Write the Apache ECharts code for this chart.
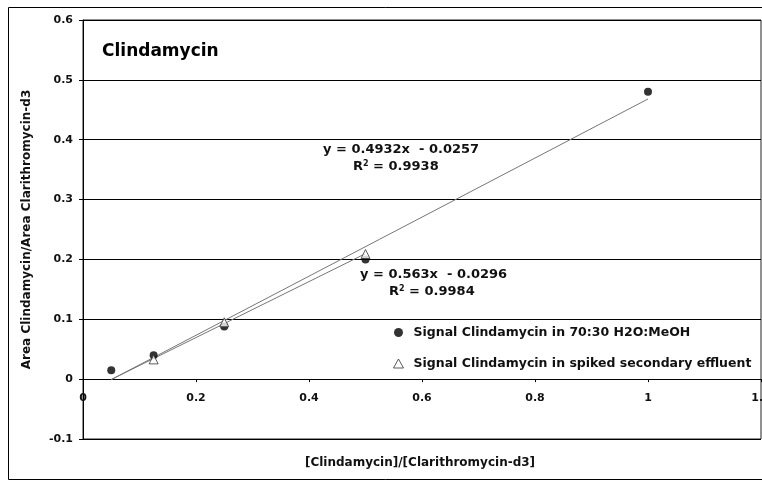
<!DOCTYPE html>
<html>
<head>
<meta charset="utf-8">
<script src="https://cdn.jsdelivr.net/npm/echarts@6/dist/echarts.min.js"></script>
<style>
  html, body { margin: 0; padding: 0; background: #fff; }
  #chart { width: 762px; height: 488px; }
</style>
</head>
<body>
<div id="chart"></div>
<script>
// Calibration data: concentration ratio vs. area ratio
const solventX = [0.05, 0.125, 0.25, 0.5, 1];
const solventY = [0.015, 0.04, 0.088, 0.2, 0.48];
const effluentX = [0.125, 0.25, 0.5];
const effluentY = [0.033, 0.095, 0.209];

// Trendlines are least-squares fits of each series, drawn across these x-ranges
const solventFitRange = [0.05, 1];
const effluentFitRange = [0.05, 0.5];

// Equation annotations as printed on the chart
const solventLabel = ['y = 0.4932x  - 0.0257', 'R{s|2} = 0.9938'];
const effluentLabel = ['y = 0.563x  - 0.0296', 'R{s|2} = 0.9984'];

const legendNames = ['Signal Clindamycin in 70:30 H2O:MeOH', 'Signal Clindamycin in spiked secondary effluent'];

const xTicks = { min: 0, max: 1.2, step: 0.2 };
const yTicks = { min: -0.1, max: 0.6, step: 0.1 };

const FONT = 'DejaVu Sans';
const GRID = { left: 83, top: 20, width: 678, height: 419 };

function pairs(xs, ys) { return xs.map((x, i) => [x, ys[i]]); }

// ordinary least squares: returns [slope, intercept]
function linearFit(xs, ys) {
  const n = xs.length;
  const mx = xs.reduce((a, b) => a + b, 0) / n;
  const my = ys.reduce((a, b) => a + b, 0) / n;
  let sxy = 0, sxx = 0;
  for (let i = 0; i < n; i++) { sxy += (xs[i] - mx) * (ys[i] - my); sxx += (xs[i] - mx) ** 2; }
  const slope = sxy / sxx;
  return [slope, my - slope * mx];
}
function fitLine(fit, range) { return range.map(x => [x, fit[0] * x + fit[1]]); }

const chart = echarts.init(document.getElementById('chart'), null, { renderer: 'canvas' });

const eqRich = { s: { fontSize: 8, fontWeight: 'bold', fontFamily: FONT, verticalAlign: 'top', padding: [0, 0, 6, 0] } };
// x axis crosses the value axis at y = 0
const zeroOffset = -GRID.height * (0 - yTicks.min) / (yTicks.max - yTicks.min);

chart.setOption({
  animation: false,
  backgroundColor: '#fff',
  grid: Object.assign({ show: true, borderColor: '#222', borderWidth: 1, backgroundColor: 'transparent', containLabel: false, outerBoundsMode: 'none' }, GRID),
  title: {
    text: 'Clindamycin', left: 97, top: 38,
    textStyle: { fontFamily: FONT, fontSize: 17, fontWeight: 'bold', color: '#000' }
  },
  legend: {
    orient: 'vertical', left: 388, top: 321, itemGap: 18, itemWidth: 10, itemHeight: 9,
    data: [
      { name: legendNames[0], icon: 'circle' },
      { name: legendNames[1], icon: 'triangle', itemStyle: { color: '#fff', borderColor: '#333', borderWidth: 1 } }
    ],
    textStyle: { fontFamily: FONT, fontSize: 12.5, fontWeight: 'bold', color: '#111', padding: [0, 0, 0, 5] }
  },
  xAxis: {
    type: 'value', min: xTicks.min, max: xTicks.max, interval: xTicks.step,
    offset: zeroOffset,
    axisLine: { onZero: false, lineStyle: { color: '#000', width: 1 } },
    axisTick: { show: true, length: 3, lineStyle: { color: '#000' } },
    splitLine: { show: false },
    axisLabel: { fontFamily: FONT, fontSize: 11, fontWeight: 'bold', color: '#111', margin: 13, showMaxLabel: true, hideOverlap: false }
  },
  yAxis: {
    type: 'value', min: yTicks.min, max: yTicks.max, interval: yTicks.step,
    axisLine: { show: true, onZero: false, lineStyle: { color: '#000', width: 1 } },
    axisTick: { show: true, length: 4, lineStyle: { color: '#000' } },
    splitLine: { show: true, lineStyle: { color: '#000', width: 1 } },
    axisLabel: { fontFamily: FONT, fontSize: 11, fontWeight: 'bold', color: '#111', margin: 10 },
    name: 'Area Clindamycin/Area Clarithromycin-d3', nameLocation: 'middle', nameGap: 50,
    nameTextStyle: { fontFamily: FONT, fontSize: 12, fontWeight: 'bold', color: '#111' }
  },
  graphic: [
    { type: 'rect', shape: { x: 8.5, y: 7.5, width: 800, height: 472 }, style: { fill: 'none', stroke: '#000', lineWidth: 1 }, silent: true, z: 0 },
    { type: 'text', x: 420, y: 463, style: { text: '[Clindamycin]/[Clarithromycin-d3]', font: 'bold 12px "DejaVu Sans"', fill: '#111', align: 'center', verticalAlign: 'middle' } },
    { type: 'text', left: 323, top: 143, style: { text: solventLabel[0], font: 'bold 13px "DejaVu Sans"', fill: '#111' } },
    { type: 'text', left: 353, top: 160, style: { text: solventLabel[1], font: 'bold 13px "DejaVu Sans"', fill: '#111', rich: eqRich } },
    { type: 'text', left: 360, top: 268, style: { text: effluentLabel[0], font: 'bold 13px "DejaVu Sans"', fill: '#111' } },
    { type: 'text', left: 389, top: 285, style: { text: effluentLabel[1], font: 'bold 13px "DejaVu Sans"', fill: '#111', rich: eqRich } }
  ],
  series: [
    {
      name: 'fit-solvent', type: 'line', data: fitLine(linearFit(solventX, solventY), solventFitRange),
      showSymbol: false, lineStyle: { color: '#777', width: 1 }, z: 3, silent: true
    },
    {
      name: 'fit-effluent', type: 'line', data: fitLine(linearFit(effluentX, effluentY), effluentFitRange),
      showSymbol: false, lineStyle: { color: '#777', width: 1 }, z: 3, silent: true
    },
    {
      name: legendNames[0], type: 'scatter', data: pairs(solventX, solventY),
      symbol: 'circle', symbolSize: 8, itemStyle: { color: '#000' }, z: 5
    },
    {
      name: legendNames[1], type: 'scatter', data: pairs(effluentX, effluentY),
      symbol: 'triangle', symbolSize: 9, itemStyle: { color: '#fff', borderColor: '#333', borderWidth: 1 }, z: 6
    }
  ]
});
</script>
</body>
</html>
